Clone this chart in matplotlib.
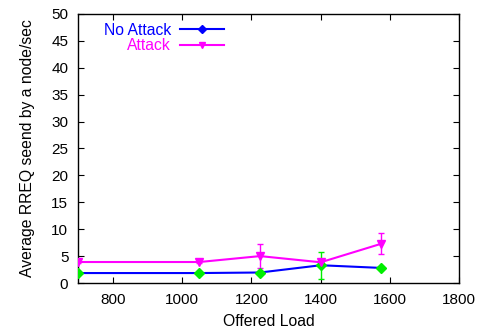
import matplotlib.pyplot as plt
from matplotlib.lines import Line2D

plt.rcParams['font.family'] = ['Liberation Sans', 'DejaVu Sans']

load = [700, 1050, 1225, 1400, 1575]
no_attack = [1.85, 1.85, 1.95, 3.3, 2.8]
no_attack_err = [0.0, 0.0, 0.0, 2.5, 0.0]
attack = [3.9, 3.9, 5.0, 3.85, 7.3]
attack_err = [0.1, 0.1, 2.3, 0.1, 2.0]

fig = plt.figure(figsize=(4.82, 3.31), dpi=100)
ax = fig.add_axes([0.162, 0.145, 0.791, 0.813])

ax.plot(load, no_attack, color='#0000ff', lw=1.5, marker='D', ms=5,
        mfc='#00ee00', mec='#00ee00', label='No Attack', zorder=3)
ax.errorbar(load, no_attack, yerr=no_attack_err, fmt='none', ecolor='#00ee00',
            elinewidth=1, capsize=2, zorder=2)
ax.plot(load, attack, color='#ff00ff', lw=1.5, marker='v', ms=6,
        mfc='#ff00ff', mec='#ff00ff', label='Attack', zorder=3)
ax.errorbar(load, attack, yerr=attack_err, fmt='none', ecolor='#ff00ff',
            elinewidth=1, capsize=2, zorder=2)

ax.set_xlim(700, 1800)
ax.set_ylim(0, 50)
ax.set_xticks(range(800, 1801, 200))
ax.set_yticks(range(0, 51, 5))
ax.tick_params(direction='in', top=True, right=True, labelsize=11, length=4,
               pad=7)
for s in ax.spines.values():
    s.set_linewidth(1)

ax.set_xlabel('Offered Load', fontsize=11.3, labelpad=5)
ax.set_ylabel('Average RREQ seend by a node/sec', fontsize=11.3, labelpad=12)

# legend samples: line with marker, text placed before the sample
handles = [Line2D([], [], color='#0000ff', lw=1.5, marker='D', ms=4, mfc='#0000ff'),
           Line2D([], [], color='#ff00ff', lw=1.5, marker='v', ms=5)]
ax.legend(handles, ['No Attack', 'Attack'], loc='upper left', frameon=False,
          markerfirst=False, labelcolor=['#0000ff', '#ff00ff'], fontsize=11.3,
          handlelength=2.8, handletextpad=0.6, labelspacing=0.05,
          bbox_to_anchor=(0.03, 1.02), alignment='right')

fig.savefig('out.png', dpi=100)
